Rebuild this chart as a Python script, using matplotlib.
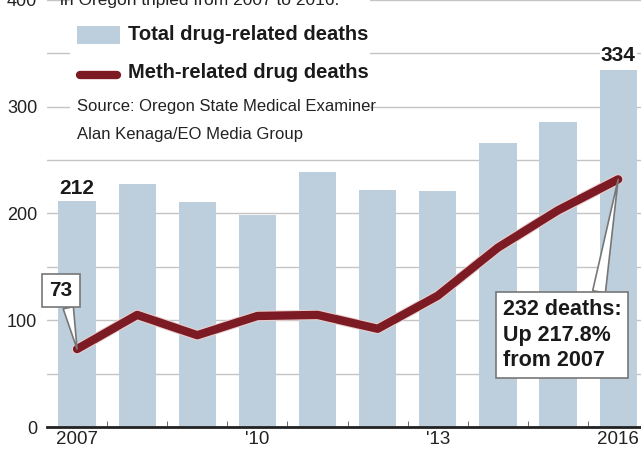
import matplotlib.pyplot as plt
import matplotlib.patheffects as pe
from matplotlib.patches import Rectangle
from matplotlib.lines import Line2D

# data
years = [2007, 2008, 2009, 2010, 2011, 2012, 2013, 2014, 2015, 2016]
total_deaths = [212, 228, 211, 199, 239, 222, 221, 266, 286, 334]
meth_deaths = [73, 105, 86, 104, 105, 92, 123, 168, 203, 232]
tick_pos = [0, 3, 6, 9]
tick_labels = ["2007", "'10", "'13", "2016"]
y_ticks = [0, 100, 200, 300, 400]

plt.rcParams["font.family"] = ["Liberation Sans", "DejaVu Sans"]

bar_col = "#bdcfdc"
line_col = "#7d1b24"
txt_col = "#1a1a1a"

fig = plt.figure(figsize=(6.41, 4.55), dpi=100)
ax = fig.add_axes([47 / 641, 28 / 455, 594 / 641, 427 / 455])

x = list(range(len(years)))
ax.bar(x, total_deaths, width=0.62, color=bar_col, zorder=2)
ax.plot(x, meth_deaths, color=line_col, lw=6, solid_capstyle="round",
        solid_joinstyle="round", zorder=4,
        path_effects=[pe.Stroke(linewidth=7.5, foreground="#e9cfcf"), pe.Normal()])

ax.set_xlim(-0.5, 9.38)
ax.set_ylim(0, 400)
ax.set_yticks(y_ticks)
ax.set_yticks(range(50, 400, 100), minor=True)
ax.set_xticks(tick_pos)
ax.set_xticklabels(tick_labels)
ax.set_xticks([i + 0.5 for i in range(9)], minor=True)
ax.grid(axis="y", which="both", color="#c4c4c4", lw=1)
ax.set_axisbelow(True)
for s in ["left", "right", "top"]:
    ax.spines[s].set_visible(False)
ax.spines["bottom"].set_linewidth(2)
ax.spines["bottom"].set_color("#222222")
ax.tick_params(axis="y", which="both", length=0, pad=7, labelsize=13, labelcolor="#222222")
ax.tick_params(axis="x", which="major", length=0, pad=3, labelsize=13.5, labelcolor="#222222")
ax.tick_params(axis="x", which="minor", direction="in", length=4, color="#555555")

# white area behind legend
ax.add_patch(Rectangle((70 / 641, 1 - 148 / 455), 300 / 641, 148 / 455,
                       transform=fig.transFigure, facecolor="white",
                       edgecolor="none", zorder=1, clip_on=False))

# title, cut off at top like the clipped original
fig.text(60 / 641, 1 - 5 / 455, "in Oregon tripled from 2007 to 2016.",
         fontsize=12.5, va="baseline", ha="left", color="#222222")

# legend
ax.add_patch(Rectangle((77 / 641, 1 - 44 / 455), 43 / 641, 18 / 455,
                       transform=fig.transFigure, facecolor=bar_col,
                       edgecolor="none", zorder=3, clip_on=False))
fig.text(128 / 641, 1 - 34 / 455, "Total drug-related deaths", fontsize=14.5,
         fontweight="bold", va="center", ha="left", color=txt_col)
fig.add_artist(Line2D([80 / 641, 117 / 641], [1 - 75 / 455, 1 - 75 / 455],
                      color=line_col, lw=6, solid_capstyle="round"))
fig.text(128 / 641, 1 - 73 / 455, "Meth-related drug deaths", fontsize=14.5,
         fontweight="bold", va="center", ha="left", color=txt_col)
fig.text(77 / 641, 1 - 107 / 455, "Source: Oregon State Medical Examiner",
         fontsize=12, va="center", ha="left", color="#222222")
fig.text(77 / 641, 1 - 134 / 455, "Alan Kenaga/EO Media Group",
         fontsize=12, va="center", ha="left", color="#222222")

# value labels
ax.annotate(str(total_deaths[0]), (0, total_deaths[0]), xytext=(0, 2),
            textcoords="offset points", ha="center", va="bottom",
            fontsize=15, fontweight="bold", color=txt_col, zorder=5)
ax.annotate(str(total_deaths[-1]), (9, total_deaths[-1]), xytext=(0, 4),
            textcoords="offset points", ha="center", va="bottom",
            fontsize=15, fontweight="bold", color=txt_col, zorder=5,
            bbox=dict(boxstyle="square,pad=0.05", fc="white", ec="none"))

# callouts
ax.annotate(str(meth_deaths[0]), (0, meth_deaths[0]), xytext=(-0.27, 128),
            ha="center", va="center", fontsize=15, fontweight="bold",
            color=txt_col, zorder=6,
            bbox=dict(boxstyle="square,pad=0.35", fc="white", ec="#777777", lw=1.2),
            arrowprops=dict(arrowstyle="wedge,tail_width=0.5,shrink_factor=0.5",
                            fc="white", ec="#777777", lw=1.2,
                            relpos=(0.75, 0.0), shrinkA=0, shrinkB=0))
ax.annotate("232 deaths:\nUp 217.8%\nfrom 2007", (9, meth_deaths[-1]),
            xytext=(8.07, 86), ha="center", va="center", multialignment="left",
            fontsize=15.5, fontweight="bold", color=txt_col, linespacing=1.3,
            zorder=6,
            bbox=dict(boxstyle="square,pad=0.3", fc="white", ec="#777777", lw=1.2),
            arrowprops=dict(arrowstyle="wedge,tail_width=0.6,shrink_factor=0.5",
                            fc="white", ec="#777777", lw=1.2,
                            relpos=(0.8, 1.0), shrinkA=0, shrinkB=0))

fig.savefig("out.png", dpi=100)
